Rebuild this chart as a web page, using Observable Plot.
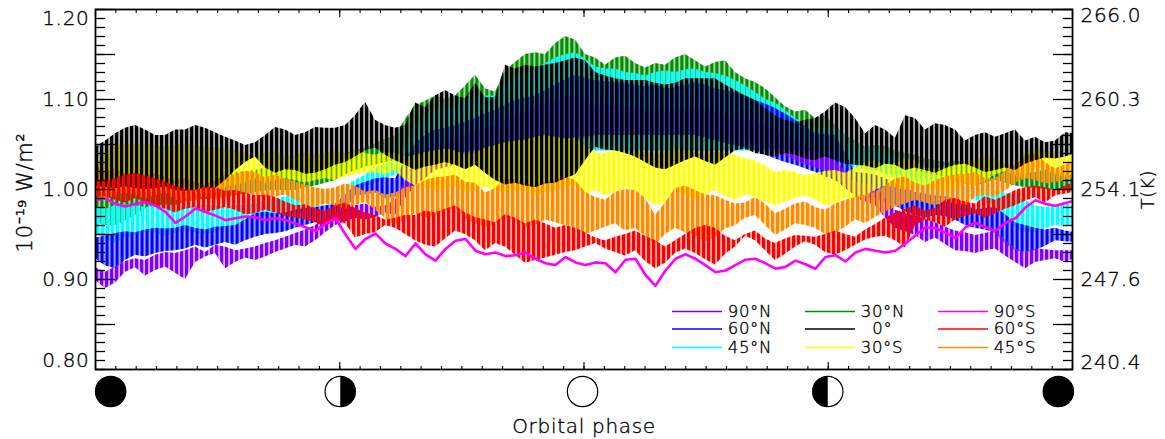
<!DOCTYPE html>
<html>
<head>
<meta charset="utf-8">
<script src="https://cdn.jsdelivr.net/npm/d3@7"></script>
<script src="https://cdn.jsdelivr.net/npm/@observablehq/plot@0.6"></script>
<style>
html,body{margin:0;padding:0;background:#fff}
svg text{letter-spacing:0.7px}
</style>
</head>
<body>
<div id="chart"></div>
<script>
const phase = d3.range(99).map(i => i * 0.010235);

const black_hi_a = [1.047,1.062,1.071,1.060,1.066,1.071,1.063,1.054,1.052,1.069,1.060,1.069,1.068,1.082,1.077,1.068,1.096,1.104,1.104,1.118,1.102,1.134,1.136,1.140,1.146,1.130,1.123,1.121,1.118,1.118,1.123,1.123,1.110,1.099,1.082,1.074,1.079,1.096,1.079,1.071,1.057,1.079,1.073,1.066,1.060,1.058,1.066,1.058,1.054,1.062];
const black_hi_b = [1.054,1.068,1.066,1.060,1.066,1.068,1.058,1.049,1.060,1.066,1.063,1.068,1.071,1.097,1.071,1.071,1.091,1.110,1.101,1.102,1.138,1.138,1.138,1.143,1.143,1.126,1.121,1.121,1.116,1.123,1.123,1.116,1.104,1.090,1.077,1.077,1.086,1.091,1.062,1.066,1.082,1.066,1.071,1.054,1.063,1.062,1.054,1.052,1.063];
const black_lo_a = [1.004,1.001,1.001,1.001,.999,.999,1.001,1.021,1.036,1.018,1.021,1.018,1.027,1.036,1.046,1.032,1.021,1.027,1.027,1.027,1.010,1.007,1.002,1.007,1.016,1.047,1.043,1.036,1.024,1.027,1.036,1.027,1.043,1.040,1.036,1.038,1.032,1.032,1.027,1.023,1.027,1.024,1.018,1.027,1.024,1.021,1.021,1.032,1.034,1.040];
const black_lo_b = [1.002,1.003,1.000,1.003,.998,1.001,1.010,1.030,1.024,1.022,1.017,1.022,1.030,1.043,1.038,1.027,1.025,1.030,1.022,1.018,1.005,1.004,1.006,1.012,1.032,1.044,1.040,1.030,1.022,1.032,1.031,1.035,1.045,1.038,1.040,1.034,1.036,1.028,1.026,1.028,1.021,1.021,1.023,1.028,1.019,1.024,1.028,1.035,1.036];
const green_hi_a = [.999,1.004,1.016,1.016,1.016,1.016,1.016,1.019,1.021,1.027,1.027,1.032,1.038,1.043,1.051,1.060,1.093,1.104,1.104,1.127,1.108,1.141,1.152,1.162,1.166,1.146,1.146,1.140,1.140,1.146,1.143,1.141,1.130,1.119,1.102,1.086,1.079,1.071,1.054,1.049,1.043,1.038,1.032,1.032,1.027,1.023,1.021,1.019,1.019,1.016];
const green_hi_b = [1.001,1.010,1.018,1.014,1.016,1.014,1.017,1.020,1.024,1.025,1.030,1.035,1.040,1.046,1.056,1.078,1.098,1.100,1.115,1.112,1.132,1.150,1.150,1.170,1.150,1.138,1.148,1.135,1.138,1.150,1.136,1.143,1.123,1.112,1.092,1.088,1.082,1.060,1.047,1.048,1.040,1.034,1.030,1.030,1.024,1.024,1.018,1.022,1.016];
const green_lo_a = [.963,.960,.971,.982,.982,.988,.990,.993,.996,.999,.999,1.004,1.010,1.021,1.027,1.032,1.038,1.043,1.043,1.043,1.043,1.043,1.043,1.043,1.043,1.043,1.043,1.043,1.043,1.043,1.043,1.043,1.043,1.043,1.043,1.043,1.043,1.032,1.027,1.021,1.016,1.012,1.010,1.008,1.004,1.010,1.004,1.001,.999,.999];
const green_lo_b = [.960,.965,.978,.982,.986,.989,.992,.995,.998,.999,1.002,1.007,1.016,1.025,1.030,1.035,1.040,1.043,1.043,1.043,1.043,1.043,1.043,1.043,1.043,1.043,1.043,1.043,1.043,1.043,1.043,1.043,1.043,1.043,1.043,1.043,1.037,1.030,1.024,1.018,1.014,1.011,1.009,1.006,1.007,1.007,1.002,1.000,.999];
const cyan_hi_a = [.980,.982,.982,.982,.982,.982,.982,.982,.984,.990,.993,.996,.999,1.010,1.023,1.032,1.071,1.088,1.093,1.104,1.104,1.127,1.134,1.146,1.152,1.136,1.134,1.129,1.130,1.130,1.134,1.129,1.121,1.108,1.096,1.079,1.066,1.071,1.046,1.046,1.038,1.021,1.016,1.010,1.001,.999,.993,.982,.982,.982];
const cyan_hi_b = [.978,.983,.980,.983,.981,.983,.980,.983,.987,.992,.994,.997,1.004,1.016,1.028,1.050,1.080,1.090,1.100,1.104,1.118,1.130,1.140,1.150,1.145,1.134,1.130,1.126,1.132,1.133,1.130,1.126,1.115,1.100,1.088,1.072,1.068,1.060,1.046,1.042,1.030,1.018,1.014,1.004,1.000,.996,.988,.980,.984];
const cyan_lo_a = [.952,.940,.949,.951,.951,.952,.952,.960,.969,.971,.974,.980,.988,.999,1.007,1.016,1.027,1.032,1.038,1.043,1.043,1.043,1.043,1.043,1.043,1.043,1.043,1.043,1.043,1.043,1.043,1.043,1.043,1.043,1.043,1.043,1.041,1.032,1.023,1.021,1.012,.999,.993,.993,.988,.982,.957,.952,.960,.960];
const cyan_lo_b = [.945,.946,.953,.948,.954,.950,.957,.965,.970,.972,.977,.984,.994,1.003,1.012,1.022,1.030,1.035,1.041,1.043,1.043,1.043,1.043,1.043,1.043,1.043,1.043,1.043,1.043,1.043,1.043,1.043,1.043,1.043,1.043,1.043,1.036,1.028,1.022,1.016,1.005,.996,.990,.991,.985,.970,.953,.956,.958];
const blue_hi_a = [.946,.951,.952,.957,.957,.957,.958,.960,.973,.973,.977,.980,.984,1.004,1.012,1.012,1.051,1.066,1.071,1.079,1.088,1.099,1.104,1.116,1.127,1.121,1.119,1.116,1.116,1.113,1.119,1.112,1.108,1.099,1.090,1.077,1.062,1.060,1.019,1.016,1.007,.997,.993,.990,.977,.980,.963,.957,.957,.952];
const blue_hi_b = [.948,.953,.955,.956,.960,.955,.959,.966,.975,.974,.979,.982,.994,1.008,1.013,1.032,1.060,1.068,1.075,1.084,1.094,1.102,1.110,1.122,1.124,1.120,1.118,1.114,1.112,1.116,1.116,1.110,1.104,1.095,1.084,1.070,1.061,1.040,1.018,1.012,1.002,.995,.992,.984,.979,.972,.960,.955,.954];
const blue_lo_a = [.923,.912,.927,.929,.932,.938,.938,.938,.947,.951,.957,.963,.966,.993,.996,.991,1.004,1.032,1.038,1.043,1.043,1.046,1.049,1.054,1.058,1.060,1.060,1.060,1.060,1.060,1.060,1.054,1.049,1.043,1.034,1.027,1.019,1.010,.993,.990,.982,.971,.971,.966,.957,.951,.932,.932,.943,.941];
const blue_lo_b = [.915,.921,.925,.931,.934,.935,.941,.943,.950,.953,.960,.962,.976,.994,.990,.998,1.018,1.035,1.041,1.043,1.045,1.047,1.051,1.056,1.059,1.060,1.060,1.060,1.060,1.060,1.057,1.051,1.046,1.038,1.030,1.023,1.014,1.001,.992,.985,.975,.968,.970,.960,.955,.940,.930,.937,.942];
const purple_hi_a = [.913,.914,.923,.927,.929,.936,.938,.932,.936,.943,.951,.960,.974,.982,.980,.988,1.032,1.043,1.054,1.066,1.071,1.082,1.090,1.099,1.104,1.093,1.093,1.090,1.088,1.088,1.090,1.086,1.077,1.077,1.066,1.054,1.043,1.032,1.007,1.004,.977,.971,.963,.954,.949,.954,.934,.934,.932,.932];
const purple_hi_b = [.908,.920,.921,.930,.932,.930,.936,.934,.940,.947,.955,.968,.978,.984,.982,1.010,1.038,1.048,1.060,1.068,1.076,1.086,1.094,1.102,1.098,1.093,1.092,1.089,1.088,1.089,1.088,1.082,1.077,1.072,1.060,1.048,1.038,1.020,1.006,.990,.973,.967,.958,.952,.951,.944,.930,.933,.932];
const purple_lo_a = [.899,.896,.913,.910,.907,.919,.929,.919,.921,.930,.938,.943,.960,.968,.969,.971,1.004,1.021,1.027,1.032,1.032,1.038,1.043,1.049,1.054,1.060,1.060,1.060,1.060,1.060,1.060,1.057,1.054,1.049,1.043,1.032,1.024,1.016,.991,.982,.957,.949,.946,.932,.929,.934,.919,.919,.923,.923];
const purple_lo_b = [.890,.908,.904,.914,.900,.925,.912,.924,.925,.934,.936,.952,.964,.966,.974,.990,1.012,1.024,1.030,1.032,1.035,1.040,1.046,1.052,1.057,1.060,1.060,1.060,1.060,1.060,1.058,1.055,1.052,1.046,1.038,1.028,1.020,1.004,.986,.968,.953,.941,.939,.931,.932,.926,.912,.921,.919];
const yellow_hi_a = [1.027,1.049,1.051,1.049,1.049,1.049,1.046,1.043,1.036,1.043,1.038,1.038,1.043,1.043,1.038,1.040,1.038,1.043,1.043,1.040,1.049,1.054,1.058,1.058,1.057,1.040,1.043,1.043,1.038,1.046,1.041,1.041,1.038,1.032,1.019,1.019,1.018,1.021,1.024,1.032,1.029,1.032,1.023,1.027,1.032,1.034,1.027,1.046,1.038,1.041];
const yellow_hi_b = [1.040,1.050,1.050,1.047,1.050,1.047,1.045,1.040,1.040,1.036,1.041,1.040,1.038,1.040,1.042,1.036,1.041,1.045,1.038,1.046,1.052,1.055,1.060,1.056,1.048,1.040,1.040,1.041,1.040,1.043,1.038,1.040,1.034,1.026,1.021,1.015,1.020,1.018,1.030,1.028,1.034,1.024,1.025,1.030,1.037,1.028,1.040,1.044,1.036];
const yellow_lo_a = [.999,.999,.999,.999,.993,.993,.999,1.004,1.012,1.010,1.010,1.010,1.010,1.016,1.019,1.021,1.004,.999,1.004,.999,.999,.999,.993,.999,1.004,.999,.997,.999,.982,.999,.988,.999,.988,.991,.982,.990,.988,.984,.988,.999,1.002,1.002,.999,1.002,1.004,1.016,1.016,1.024,1.016,1.019];
const yellow_lo_b = [.996,1.000,.996,.998,.990,.996,1.002,1.008,1.006,1.012,1.007,1.012,1.014,1.018,1.016,1.010,1.002,1.001,.996,1.002,.996,.998,.996,1.002,.994,.993,1.001,.990,.985,.993,.994,.992,.994,.986,.986,.993,.982,.990,.992,1.004,.999,1.004,.998,1.007,1.010,1.020,1.012,1.022,1.014];
const orange_hi_a = [1.027,1.023,1.012,1.018,1.010,1.008,1.010,1.016,1.019,1.016,1.008,1.002,1.002,1.004,.999,.996,1.004,1.013,1.016,1.007,1.001,1.010,1.004,1.010,1.010,.991,.997,.999,.971,1.001,.999,.993,.984,.991,.973,.984,.980,.984,.991,.997,1.012,1.007,1.010,1.016,1.019,1.012,1.027,1.040,1.023,1.032];
const orange_hi_b = [1.019,1.017,1.015,1.013,1.012,1.005,1.016,1.020,1.013,1.012,1.005,1.000,1.006,.997,.994,1.002,1.010,1.014,1.008,.996,1.012,1.006,1.008,1.014,.997,.988,1.000,.990,.985,1.004,.994,.988,.985,.984,.978,.986,.977,.988,.994,1.004,1.014,1.004,1.014,1.017,1.012,1.020,1.036,1.030,1.027];
const orange_lo_a = [.993,.993,.993,.993,.988,.988,.988,.993,.993,.991,.988,.980,.982,.982,.977,.960,.973,.971,.979,.962,.962,.966,.960,.963,.957,.954,.962,.957,.938,.957,.949,.946,.960,.971,.949,.962,.957,.951,.966,.969,.980,.988,.982,.984,.991,.991,1.007,1.010,1.008,1.013];
const orange_lo_b = [.990,.996,.990,.996,.985,.992,.990,.996,.990,.994,.982,.984,.978,.986,.968,.966,.968,.976,.968,.958,.968,.958,.966,.960,.950,.958,.954,.948,.950,.952,.942,.956,.968,.960,.955,.960,.950,.958,.962,.975,.984,.985,.986,.982,.994,.998,1.012,1.006,1.010];
const red_hi_a = [1.012,1.012,1.018,1.012,1.004,.999,1.002,.999,.993,.991,.982,.979,.982,.979,.971,.968,.971,.974,.982,.969,.963,.968,.966,.957,.957,.946,.947,.954,.943,.943,.957,.957,.943,.954,.940,.949,.947,.954,.947,.961,.974,.982,.979,.990,.984,.988,.999,1.004,.999,1.008];
const red_hi_b = [1.008,1.016,1.015,1.008,1.000,1.003,.998,.996,.994,.986,.983,.976,.985,.974,.966,.971,.976,.978,.974,.966,.972,.962,.962,.960,.952,.943,.950,.948,.936,.950,.960,.948,.950,.945,.945,.948,.950,.950,.955,.968,.978,.976,.988,.986,.992,.993,1.002,1.002,1.004];
const red_lo_a = [.990,.988,.990,.982,.974,.980,.977,.977,.973,.974,.968,.963,.966,.946,.952,.957,.943,.936,.954,.943,.940,.927,.921,.927,.932,.940,.930,.932,.912,.929,.929,.916,.936,.943,.921,.936,.938,.927,.938,.947,.943,.960,.963,.966,.973,.973,.982,.991,.993,.997];
const red_lo_b = [.992,.985,.986,.978,.978,.974,.980,.972,.977,.970,.966,.958,.962,.950,.960,.950,.938,.945,.950,.932,.936,.918,.924,.930,.936,.934,.926,.920,.918,.934,.922,.928,.948,.932,.928,.942,.930,.932,.944,.948,.935,.966,.958,.970,.968,.978,.987,.985,.995];
const magenta_a = [.988,.984,.984,.982,.963,.979,.971,.968,.969,.968,.962,.954,.968,.934,.951,.934,.940,.921,.943,.932,.930,.927,.923,.916,.919,.919,.908,.923,.893,.923,.923,.908,.916,.923,.912,.921,.912,.927,.930,.932,.932,.949,.957,.946,.963,.954,.968,.988,.982,.988];
const magenta_b = [.990,.981,.986,.975,.970,.975,.966,.970,.966,.966,.958,.962,.950,.945,.940,.926,.928,.934,.945,.928,.926,.930,.918,.925,.916,.918,.922,.905,.910,.928,.916,.910,.922,.918,.914,.917,.925,.920,.934,.930,.940,.958,.952,.958,.958,.963,.980,.984,.985];

const weave = (a,b) => a.flatMap((v,i) => i < b.length ? [v,b[i]] : [v]);
const colors = {purple:"#7f00ff",blue:"#0000ff",cyan:"#00ffff",green:"#008f00",yellow:"#ffff00",orange:"#ff8c00",black:"#000000",red:"#ff0000",magenta:"#ff00ff"};
const bandOrder = [
  ["green",weave(green_hi_a,green_hi_b),weave(green_lo_a,green_lo_b),0.3],
  ["cyan",weave(cyan_hi_a,cyan_hi_b),weave(cyan_lo_a,cyan_lo_b),1.0],
  ["blue",weave(blue_hi_a,blue_hi_b),weave(blue_lo_a,blue_lo_b),0.5],
  ["purple",weave(purple_hi_a,purple_hi_b),weave(purple_lo_a,purple_lo_b),0.0],
  ["yellow",weave(yellow_hi_a,yellow_hi_b),weave(yellow_lo_a,yellow_lo_b),2.4],
  ["orange",weave(orange_hi_a,orange_hi_b),weave(orange_lo_a,orange_lo_b),1.0],
  ["black",weave(black_hi_a,black_hi_b),weave(black_lo_a,black_lo_b),0.0],
  ["red",weave(red_hi_a,red_hi_b),weave(red_lo_a,red_lo_b),2.0]
];
const magenta = weave(magenta_a,magenta_b);

const legendRows = [
  ["90°N","purple",0,0],["60°N","blue",0,1],["45°N","cyan",0,2],
  ["30°N","green",1,0],["0°","black",1,1],["30°S","yellow",1,2],
  ["90°S","magenta",2,0],["60°S","red",2,1],["45°S","orange",2,2]
];
const legendColX = [0.5906,0.7267,0.8628];
const legendRowY = [0.8644,0.845,0.8244];

const majorY = [0.8,0.85,0.9,0.95,1.0,1.05,1.1,1.15,1.2];
const minorY = d3.range(80,121).map(v => v/100);
const majorX = [0,0.25,0.5,0.75,1];
const minorX = d3.range(0,49).map(v => v/48);
const leftLabels = [[1.10,"1.10"],[1.00,"1.00"],[0.90,"0.90"]];
const rightLabels = [[1.10,"260.3"],[1.00,"254.1"],[0.90,"247.6"]];

const moons = [
  {x:0.0155,kind:"new"},{x:0.2505,kind:"q1"},{x:0.4985,kind:"full"},{x:0.7495,kind:"q3"},{x:0.9855,kind:"new"}
];
const rightHalf = {draw(c,s){const r=Math.sqrt(s/Math.PI);c.moveTo(0,-r);c.arc(0,0,r,-Math.PI/2,Math.PI/2);c.closePath();}};
const leftHalf = {draw(c,s){const r=Math.sqrt(s/Math.PI);c.moveTo(0,r);c.arc(0,0,r,Math.PI/2,3*Math.PI/2);c.closePath();}};

const font = "DejaVu Sans";
const marks = [];
for (const [name,hi,lo] of bandOrder) {
  const rows = phase.map((x,i)=>({x,hi:hi[i],lo:lo[i]}));
  marks.push(Plot.areaY(rows,{x:"x",y1:"lo",y2:"hi",fill:`url(#st-${name})`,clip:true}));
}
marks.push(Plot.line(phase.map((x,i)=>({x,y:magenta[i]})),{x:"x",y:"y",stroke:colors.magenta,strokeWidth:2.6,clip:true}));

const yTicks = (anchor,ticks,size) => Plot.axisY({anchor,ticks,tickSize:-size,tickFormat:()=>"",label:null,stroke:"#000",strokeWidth:1.3});
const xTicks = (anchor,ticks,size) => Plot.axisX({anchor,ticks,tickSize:-size,tickFormat:()=>"",label:null,stroke:"#000",strokeWidth:1.1});
marks.push(yTicks("left",minorY,10),yTicks("left",majorY,20),yTicks("right",minorY,10),yTicks("right",majorY,20));
marks.push(xTicks("bottom",minorX,3),xTicks("bottom",majorX,7),xTicks("top",minorX,3),xTicks("top",majorX,7));
marks.push(Plot.frame({stroke:"#000",strokeWidth:1.8}));

const tf = {fill:"#000",stroke:"#000",strokeWidth:0.35,fontFamily:font,fontWeight:200,fontSize:20};
marks.push(Plot.text(leftLabels,{x:()=>0,y:d=>d[0],text:d=>d[1],textAnchor:"end",dx:-6,...tf}));
marks.push(Plot.text([[1.2,"1.20"]],{x:()=>0,y:d=>d[0],text:d=>d[1],textAnchor:"end",dx:-6,dy:9,...tf}));
marks.push(Plot.text([[0.8,"0.80"]],{x:()=>0,y:d=>d[0],text:d=>d[1],textAnchor:"end",dx:-6,dy:-9,...tf}));
marks.push(Plot.text(rightLabels,{x:()=>1,y:d=>d[0],text:d=>d[1],textAnchor:"start",dx:8,...tf}));
marks.push(Plot.text([[1.2,"266.0"]],{x:()=>1,y:d=>d[0],text:d=>d[1],textAnchor:"start",dx:8,dy:6,...tf}));
marks.push(Plot.text([[0.8,"240.4"]],{x:()=>1,y:d=>d[0],text:d=>d[1],textAnchor:"start",dx:8,dy:-7,...tf}));
marks.push(Plot.text(["10⁻¹⁹ W/m²"],{x:()=>0,y:()=>1.0,text:d=>d,rotate:-90,dx:-70,dy:3,...tf,fontSize:21}));
marks.push(Plot.text(["T(K)"],{x:()=>1,y:()=>1.0,text:d=>d,rotate:-90,dx:76,...tf,fontSize:18}));
marks.push(Plot.text(["Orbital phase"],{x:()=>0.5,y:()=>0.8,text:d=>d,dy:57,...tf}));

marks.push(Plot.dot(moons,{x:"x",y:()=>0.8,dy:22,r:15.2,fill:d=>d.kind==="new"?"#000":"#fff",stroke:"#000",strokeWidth:1.2,clip:false}));
marks.push(Plot.dot(moons.filter(d=>d.kind==="q1"),{x:"x",y:()=>0.8,dy:22,r:15.2,symbol:rightHalf,fill:"#000"}));
marks.push(Plot.dot(moons.filter(d=>d.kind==="q3"),{x:"x",y:()=>0.8,dy:22,r:15.2,symbol:leftHalf,fill:"#000"}));

for (const [label,c,col,row] of legendRows) {
  marks.push(Plot.ruleY([legendRowY[row]],{x1:legendColX[col],x2:legendColX[col]+0.0512,stroke:colors[c],strokeWidth:1.4}));
  marks.push(Plot.text([label],{x:()=>legendColX[col]+(label==="0°"?0.0683:0.0565),y:()=>legendRowY[row],text:d=>d,textAnchor:"start",...tf,fontSize:16.5}));
}

const svg = Plot.plot({
  width:1165,height:439,marginLeft:95,marginRight:93,marginTop:9,marginBottom:70,
  style:{background:"#fff",overflow:"visible"},
  x:{domain:[0,1],axis:null},
  y:{domain:[0.8,1.2],axis:null},
  marks
});
const defs = d3.select(svg).insert("defs",":first-child");
for (const [name,,,off] of bandOrder) {
  const p = defs.append("pattern").attr("id",`st-${name}`).attr("patternUnits","userSpaceOnUse")
    .attr("width",5).attr("height",10).attr("patternTransform",`translate(${off},0)`);
  p.append("rect").attr("width",5).attr("height",10).attr("fill",colors[name]).attr("opacity",0.3);
  p.append("rect").attr("width",3.2).attr("height",10).attr("fill",colors[name]);
}
document.getElementById("chart").append(svg);
</script>
</body>
</html>
